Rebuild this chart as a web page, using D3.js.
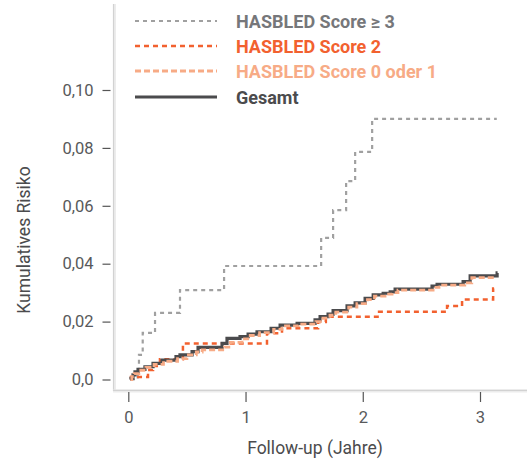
<!DOCTYPE html>
<html>
<head>
<meta charset="utf-8">
<script src="https://cdn.jsdelivr.net/npm/d3@7"></script>
<style>
  html, body { margin: 0; padding: 0; background: #fff; }
  svg { display: block; font-family: Roboto, "Noto Sans", sans-serif; }
</style>
</head>
<body>
<svg id="chart" width="527" height="459"></svg>
<script>
// ---------------- data ----------------
const gesamtTime = [0.02, 0.023, 0.040, 0.057, 0.083, 0.142, 0.211, 0.288, 0.407, 0.441, 0.544, 0.595, 0.800, 0.842, 0.953, 1.022, 1.098, 1.218, 1.295, 1.440, 1.593, 1.636, 1.704, 1.747, 1.866, 1.935, 2.020, 2.089, 2.174, 2.234, 2.276, 2.591, 2.634, 2.856, 2.916, 3.146, 3.150];
const gesamtRisk = [0, 0.0004, 0.0016, 0.0026, 0.0035, 0.0044, 0.0056, 0.0067, 0.0079, 0.0085, 0.0096, 0.0111, 0.0125, 0.0142, 0.0148, 0.0157, 0.0165, 0.0177, 0.0188, 0.0194, 0.0206, 0.0217, 0.0226, 0.0238, 0.0254, 0.0265, 0.0280, 0.0292, 0.0298, 0.0303, 0.0312, 0.0323, 0.0329, 0.0338, 0.0358, 0.0368, 0.0368];

const score01Time = [0.02, 0.03, 0.05, 0.09, 0.15, 0.22, 0.30, 0.42, 0.50, 0.58, 0.63, 0.82, 0.87, 0.97, 1.04, 1.12, 1.24, 1.31, 1.45, 1.60, 1.66, 1.72, 1.77, 1.88, 1.95, 2.04, 2.10, 2.19, 2.25, 2.30, 2.60, 2.65, 2.87, 2.93, 3.14];
const score01Risk = [0, 0.0010, 0.0020, 0.0032, 0.0042, 0.0052, 0.0063, 0.0072, 0.0085, 0.0095, 0.0102, 0.0112, 0.0128, 0.0140, 0.0152, 0.0162, 0.0173, 0.0185, 0.0191, 0.0200, 0.0212, 0.0222, 0.0233, 0.0250, 0.0262, 0.0276, 0.0288, 0.0295, 0.0300, 0.0309, 0.0318, 0.0326, 0.0334, 0.0352, 0.0352];

const score2Time = [0.02, 0.023, 0.168, 0.211, 0.270, 0.466, 1.183, 1.311, 1.619, 1.685, 2.139, 2.719, 2.847, 3.112, 3.120];
const score2Risk = [0, 0.0009, 0.0033, 0.0047, 0.0070, 0.0124, 0.0160, 0.0177, 0.0199, 0.0217, 0.0234, 0.0254, 0.0276, 0.0314, 0.0314];

const score3Time = [0.02, 0.08, 0.091, 0.123, 0.228, 0.441, 0.817, 1.645, 1.747, 1.858, 1.935, 2.080, 3.143];
const score3Risk = [0, 0.0030, 0.0085, 0.0161, 0.0230, 0.0309, 0.0392, 0.0489, 0.0585, 0.0685, 0.0786, 0.0900, 0.0900];

const xTicks = [0, 1, 2, 3];
const xTickLabels = ["0", "1", "2", "3"];
const yTicks = [0, 0.02, 0.04, 0.06, 0.08, 0.10];
const yTickLabels = ["0,0", "0,02", "0,04", "0,06", "0,08", "0,10"];

const seriesNames = ["HASBLED Score \u2265 3", "HASBLED Score 2", "HASBLED Score 0 oder 1", "Gesamt"];
const xTitle = "Follow-up (Jahre)";
const yTitle = "Kumulatives Risiko";

// ---------------- styles ----------------
const styles = [
  { line: "#a0a0a0", text: "#76777a", width: 2.2, dash: "4,4" },
  { line: "#f2612f", text: "#f2612f", width: 2.5, dash: "5,4" },
  { line: "#f7ab86", text: "#f7ab86", width: 2.8, dash: "6,3" },
  { line: "#4b4b4d", text: "#4b4b4d", width: 3.2, dash: null }
];

// ---------------- chart ----------------
const svg = d3.select("#chart");
const x = d3.scaleLinear().domain([0, 3]).range([128.3, 480]);
const y = d3.scaleLinear().domain([0, 0.10]).range([379.5, 90]);

// axis lines (light, shaded)
svg.append("line").attr("x1", 114.5).attr("x2", 114.5).attr("y1", 4).attr("y2", 391)
  .attr("stroke", "#ececec").attr("stroke-width", 3);
svg.append("line").attr("x1", 113.5).attr("x2", 113.5).attr("y1", 4).attr("y2", 391)
  .attr("stroke", "#d2d2d2").attr("stroke-width", 1.2);
svg.append("line").attr("x1", 113).attr("x2", 527).attr("y1", 391).attr("y2", 391)
  .attr("stroke", "#ececec").attr("stroke-width", 3);
svg.append("line").attr("x1", 113).attr("x2", 527).attr("y1", 390.3).attr("y2", 390.3)
  .attr("stroke", "#d2d2d2").attr("stroke-width", 1.2);

// y axis
const yAxis = d3.axisLeft(y).tickValues(yTicks)
  .tickFormat((d, i) => yTickLabels[i]).tickSize(8).tickPadding(9);
const gy = svg.append("g").attr("transform", "translate(110.5,0)").call(yAxis);
gy.select(".domain").remove();
gy.selectAll(".tick line").attr("stroke", "#555").attr("stroke-width", 1.2);
gy.selectAll(".tick text").attr("fill", "#58595b").style("font-size", "16.5px")
  .style("font-family", "Roboto, sans-serif");

// x axis
const xAxis = d3.axisBottom(x).tickValues(xTicks)
  .tickFormat((d, i) => xTickLabels[i]).tickSize(10).tickPadding(9);
const gx = svg.append("g").attr("transform", "translate(0,392)").call(xAxis);
gx.select(".domain").remove();
gx.selectAll(".tick line").attr("stroke", "#555").attr("stroke-width", 1.2);
gx.selectAll(".tick text").attr("fill", "#58595b").style("font-size", "16.5px")
  .style("font-family", "Roboto, sans-serif");

// axis titles
svg.append("text").attr("x", 315).attr("y", 454).attr("text-anchor", "middle")
  .attr("fill", "#4b4b4d").style("font-size", "17.5px").text(xTitle);
svg.append("text").attr("transform", "translate(30,240) rotate(-90)").attr("text-anchor", "middle")
  .attr("fill", "#4b4b4d").style("font-size", "17.5px").text(yTitle);

// lines
const line = d3.line().x(d => x(d[0])).y(d => y(d[1])).curve(d3.curveStepAfter);
const series = [
  d3.zip(score3Time, score3Risk),
  d3.zip(score2Time, score2Risk),
  d3.zip(score01Time, score01Risk),
  d3.zip(gesamtTime, gesamtRisk)
];
const drawOrder = [0, 1, 3, 2];
drawOrder.forEach(i => {
  const p = svg.append("path").datum(series[i]).attr("d", line)
    .attr("fill", "none").attr("stroke", styles[i].line)
    .attr("stroke-width", styles[i].width);
  if (styles[i].dash) p.attr("stroke-dasharray", styles[i].dash);
});

// legend
const legY = [21, 46, 71, 97];
seriesNames.forEach((name, i) => {
  const l = svg.append("line").attr("x1", 135).attr("x2", 217)
    .attr("y1", legY[i]).attr("y2", legY[i])
    .attr("stroke", styles[i].line).attr("stroke-width", styles[i].width);
  if (styles[i].dash) l.attr("stroke-dasharray", styles[i].dash);
  svg.append("text").attr("x", 236).attr("y", legY[i] + 6.5)
    .attr("fill", styles[i].text).style("font-size", "18px").style("font-weight", "bold")
    .text(name);
});
</script>
</body>
</html>
